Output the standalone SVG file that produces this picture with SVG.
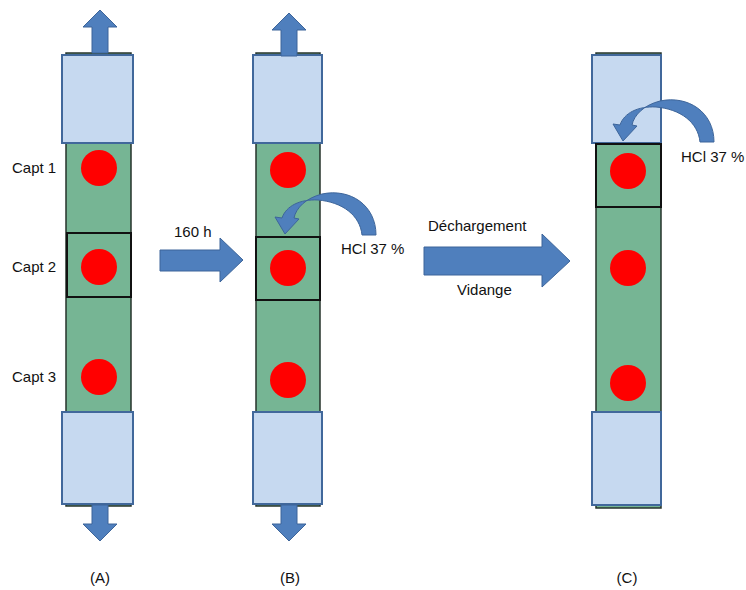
<svg xmlns="http://www.w3.org/2000/svg" width="746" height="590" viewBox="0 0 746 590">
<defs>
<style>
.col{fill:#76b594;stroke:#26332b;stroke-width:1.5}
.box{fill:#c6d9f0;stroke:#41689b;stroke-width:2}
.dot{fill:#ff0000}
.hl{fill:none;stroke:#111;stroke-width:2}
.blk{fill:#4f7fbd;stroke:#3d659a;stroke-width:1}
.t{font-family:"Liberation Sans",Arial,sans-serif;font-size:15px;fill:#111}
</style>
<path id="curv" class="blk" d="M376,235 C376,205 350,188 322,194 C306,198 296,208 294,218 L299,219 L285,234 L275,217 L282,218 C286,206 300,199 318,200 C342,202 360,215 362,235 Z"/>
<path id="up" class="blk" d="M92,53 L92,27 L83,27 L100,10 L117,27 L108,27 L108,53 Z"/>
<path id="down" class="blk" d="M92,505 L92,524 L83,524 L100,541 L117,524 L108,524 L108,505 Z"/>
</defs>
<g id="colA">
<rect class="col" x="66" y="53" width="65" height="453"/>
<rect class="box" x="62" y="55" width="71" height="88"/>
<rect class="box" x="62" y="412" width="71" height="92"/>
<circle class="dot" cx="99" cy="168" r="18"/>
<circle class="dot" cx="99" cy="267" r="18"/>
<circle class="dot" cx="99" cy="377" r="18"/>
<rect class="hl" x="67" y="233" width="64" height="64"/>
<text class="t" x="12" y="173">Capt 1</text>
<text class="t" x="12" y="272">Capt 2</text>
<text class="t" x="12" y="382">Capt 3</text>
<text class="t" x="100" y="583" text-anchor="middle" font-size="14">(A)</text>
</g>
<g id="colB">
<rect class="col" x="256" y="53" width="64" height="453"/>
<rect class="box" x="253" y="55" width="69" height="88"/>
<rect class="box" x="253" y="412" width="69" height="92"/>
<circle class="dot" cx="288" cy="170" r="18"/>
<circle class="dot" cx="288" cy="268" r="18"/>
<circle class="dot" cx="288" cy="380" r="18"/>
<rect class="hl" x="256" y="237" width="64" height="63"/>
<text class="t" x="290" y="583" text-anchor="middle" font-size="14">(B)</text>
</g>
<g id="colC">
<rect class="col" x="596" y="53" width="65" height="455"/>
<rect class="box" x="592" y="55" width="69" height="88"/>
<rect class="box" x="592" y="412" width="69" height="93"/>
<circle class="dot" cx="628" cy="171" r="18"/>
<circle class="dot" cx="628" cy="268" r="18"/>
<circle class="dot" cx="628" cy="383" r="18"/>
<rect class="hl" x="596" y="144" width="65" height="63"/>
<text class="t" x="627" y="583" text-anchor="middle" font-size="14">(C)</text>
</g>
<g id="connectors">
<use href="#up"/>
<use href="#down"/>
<use href="#up" transform="translate(189,3)"/>
<use href="#down" transform="translate(189,0)"/>
<path class="blk" d="M160,250 L220,250 L220,238 L243,260 L220,282 L220,271 L160,271 Z"/>
<path class="blk" d="M424,247 L542,247 L542,234 L570,261 L542,287 L542,275 L424,275 Z"/>
<use href="#curv"/>
<use href="#curv" transform="translate(338,-93)"/>
</g>
<g id="labels">
<text class="t" x="174" y="237">160 h</text>
<text class="t" x="428" y="231">Déchargement</text>
<text class="t" x="457" y="295">Vidange</text>
<text class="t" x="341" y="254">HCl 37 %</text>
<text class="t" x="681" y="162">HCl 37 %</text>
</g>
</svg>
